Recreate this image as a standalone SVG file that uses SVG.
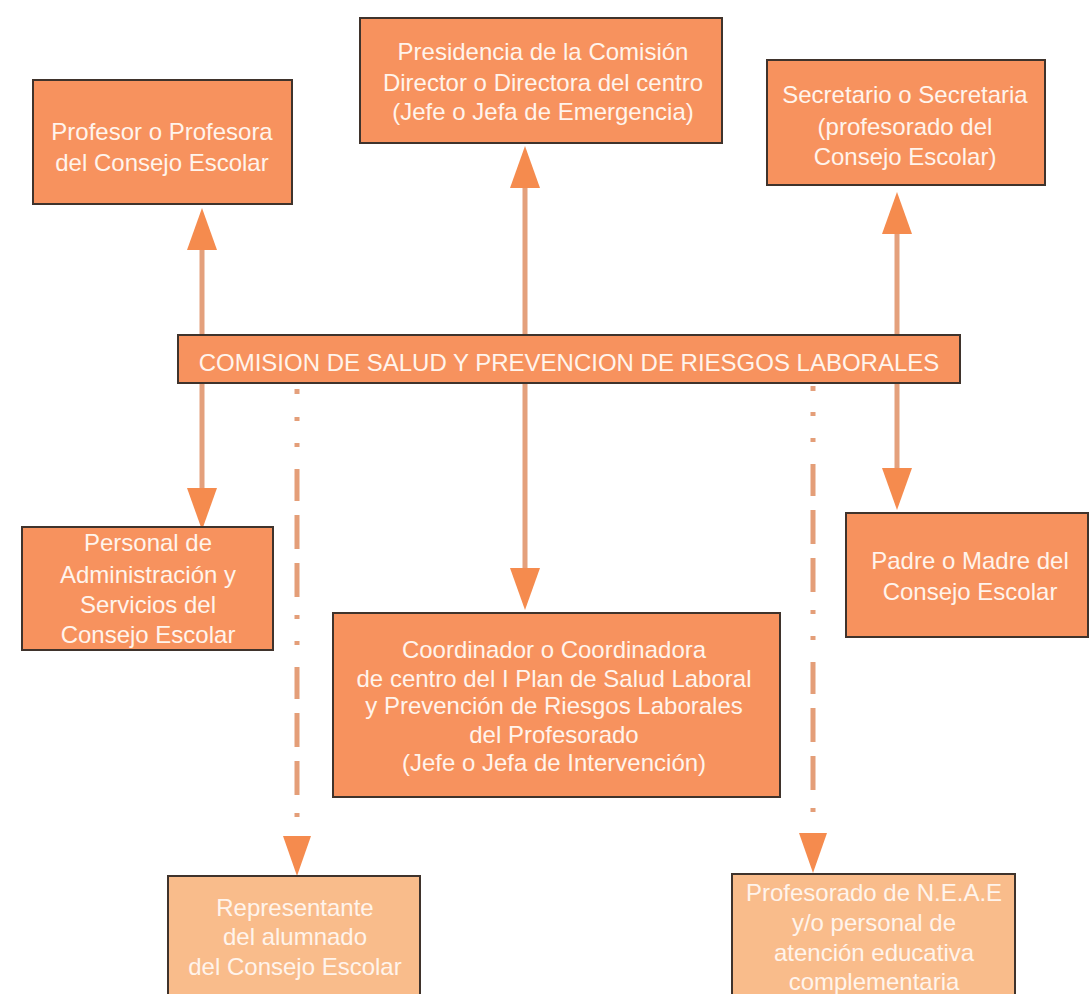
<svg xmlns="http://www.w3.org/2000/svg" width="1090" height="994" viewBox="0 0 1090 994">
<style>
.box{fill:#F7925E;stroke:#3f332c;stroke-width:2}
.lite{fill:#F9BC8B;stroke:#3f332c;stroke-width:2}
.t{font-family:"Liberation Sans",Arial,sans-serif;font-size:24px;fill:#FFF4EC;text-anchor:middle}
.ln{stroke:#E4A07C;stroke-width:5;fill:none}
.dd{stroke:#E49E78;stroke-width:5;fill:none;stroke-dasharray:4 22 4 22 32 14 34 14 34 18}
</style>
<defs>
<marker id="ah" markerUnits="userSpaceOnUse" markerWidth="42" markerHeight="30" refX="0" refY="15" orient="auto-start-reverse" viewBox="0 0 42 30">
<path d="M0,0 L42,15 L0,30 Z" fill="#F58B4E"/>
</marker>
<marker id="ah2" markerUnits="userSpaceOnUse" markerWidth="40" markerHeight="28" refX="0" refY="14" orient="auto" viewBox="0 0 40 28">
<path d="M0,0 L40,14 L0,28 Z" fill="#F58B4E"/>
</marker>
</defs>
<rect width="1090" height="994" fill="#ffffff"/>
<g id="connectors">
<line class="ln" x1="202" y1="250" x2="202" y2="488" marker-start="url(#ah)" marker-end="url(#ah)"/>
<line class="ln" x1="525" y1="188" x2="525" y2="568" marker-start="url(#ah)" marker-end="url(#ah)"/>
<line class="ln" x1="897" y1="234" x2="897" y2="468" marker-start="url(#ah)" marker-end="url(#ah)"/>
<line class="ln" x1="297" y1="389" x2="297" y2="394" stroke="#C9A898"/>
<line class="dd" x1="297" y1="417" x2="297" y2="836" marker-end="url(#ah2)"/>
<line class="ln" x1="813" y1="386" x2="813" y2="391" stroke="#C9A898"/>
<line class="dd" x1="813" y1="412" x2="813" y2="833" marker-end="url(#ah2)"/>
</g>
<g id="n-profesor">
<rect class="box" x="33" y="80" width="259" height="124"/>
<text class="t" x="162" y="140">Profesor o Profesora</text>
<text class="t" x="162" y="171">del Consejo Escolar</text>
</g>
<g id="n-presidencia">
<rect class="box" x="360" y="18" width="362" height="125"/>
<text class="t" x="543" y="60">Presidencia de la Comisión</text>
<text class="t" x="543" y="91">Director o Directora del centro</text>
<text class="t" x="543" y="120">(Jefe o Jefa de Emergencia)</text>
</g>
<g id="n-secretario">
<rect class="box" x="767" y="60" width="278" height="125"/>
<text class="t" x="905" y="103">Secretario o Secretaria</text>
<text class="t" x="905" y="135">(profesorado del</text>
<text class="t" x="905" y="165">Consejo Escolar)</text>
</g>
<g id="n-comision">
<rect class="box" x="178" y="335" width="782" height="48"/>
<text class="t" x="569" y="371">COMISION DE SALUD Y PREVENCION DE RIESGOS LABORALES</text>
</g>
<g id="n-personal">
<rect class="box" x="22" y="527" width="251" height="123"/>
<text class="t" x="148" y="551">Personal de</text>
<text class="t" x="148" y="583">Administración y</text>
<text class="t" x="148" y="613">Servicios del</text>
<text class="t" x="148" y="643">Consejo Escolar</text>
</g>
<g id="n-coordinador">
<rect class="box" x="333" y="613" width="447" height="184"/>
<text class="t" x="554" y="658">Coordinador o Coordinadora</text>
<text class="t" x="554" y="687">de centro del I Plan de Salud Laboral</text>
<text class="t" x="554" y="714">y Prevención de Riesgos Laborales</text>
<text class="t" x="554" y="743">del Profesorado</text>
<text class="t" x="554" y="771">(Jefe o Jefa de Intervención)</text>
</g>
<g id="n-padre">
<rect class="box" x="846" y="513" width="242" height="124"/>
<text class="t" x="970" y="569">Padre o Madre del</text>
<text class="t" x="970" y="600">Consejo Escolar</text>
</g>
<g id="n-representante">
<rect class="lite" x="168" y="876" width="252" height="130"/>
<text class="t" x="295" y="916">Representante</text>
<text class="t" x="295" y="945">del alumnado</text>
<text class="t" x="295" y="975">del Consejo Escolar</text>
</g>
<g id="n-neae">
<rect class="lite" x="732" y="874" width="283" height="130"/>
<text class="t" x="874" y="901">Profesorado de N.E.A.E</text>
<text class="t" x="874" y="931">y/o personal de</text>
<text class="t" x="874" y="961">atención educativa</text>
<text class="t" x="874" y="990">complementaria</text>
</g>
</svg>
